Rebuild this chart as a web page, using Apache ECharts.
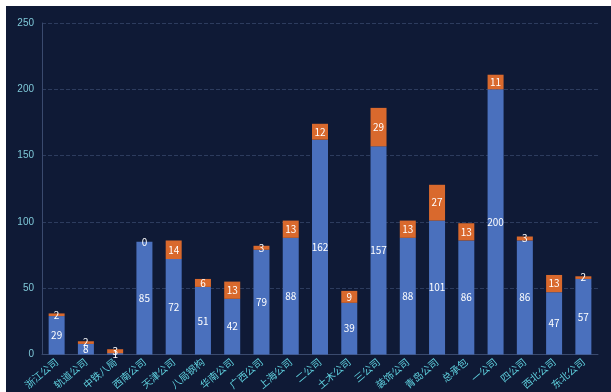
<!DOCTYPE html>
<html><head><meta charset="utf-8">
<script src="https://cdn.jsdelivr.net/npm/echarts@6/dist/echarts.min.js"></script>
<style>
html,body{margin:0;padding:0;background:#fff;width:611px;height:392px;overflow:hidden}
#c{position:absolute;left:6px;top:6px;width:605px;height:386px;background:#0f1a36}
</style></head><body>
<div id="c"></div>
<script>
const categories = ['浙江公司','轨道公司','中铁八局','西南公司','天津公司','八局钢构','华南公司','广西公司','上海公司','二公司','土木公司','三公司','装饰公司','青岛公司','总承包','一公司','四公司','西北公司','东北公司'];
const blueValues = [29,8,1,85,72,51,42,79,88,162,39,157,88,101,86,200,86,47,57];
const orangeValues = [2,2,3,0,14,6,13,3,13,12,9,29,13,27,13,11,3,13,2];
const yTicks = [0,50,100,150,200,250];

const chart = echarts.init(document.getElementById('c'));
const labelFont = {show:true, position:'inside', color:'#ffffff', fontSize:10, fontFamily:'Noto Sans CJK SC'};
chart.setOption({
  backgroundColor:'#0f1a36',
  animation:false,
  grid:{left:36, right:13, top:17, bottom:37},
  xAxis:{
    type:'category', data:categories,
    axisLine:{lineStyle:{color:'#3a4a6e'}},
    axisTick:{show:false},
    axisLabel:{color:'#5fd0de', fontSize:10, rotate:40, interval:0, margin:6, fontFamily:'Noto Sans CJK SC'}
  },
  yAxis:{
    type:'value', min:yTicks[0], max:yTicks[yTicks.length-1], interval:50,
    axisLine:{show:true, lineStyle:{color:'#3a4a6e'}},
    axisTick:{show:false},
    axisLabel:{color:'#7fc8d8', fontSize:10, margin:8},
    splitLine:{lineStyle:{color:'#2d3c5e', type:'dashed'}}
  },
  series:[
    {type:'bar', stack:'a', data:blueValues, barWidth:16,
     itemStyle:{color:'#4a70bd'}, label:labelFont},
    {type:'bar', stack:'a', data:orangeValues, barWidth:16,
     itemStyle:{color:'#d9692d'}, label:labelFont}
  ]
});
</script>
</body></html>
